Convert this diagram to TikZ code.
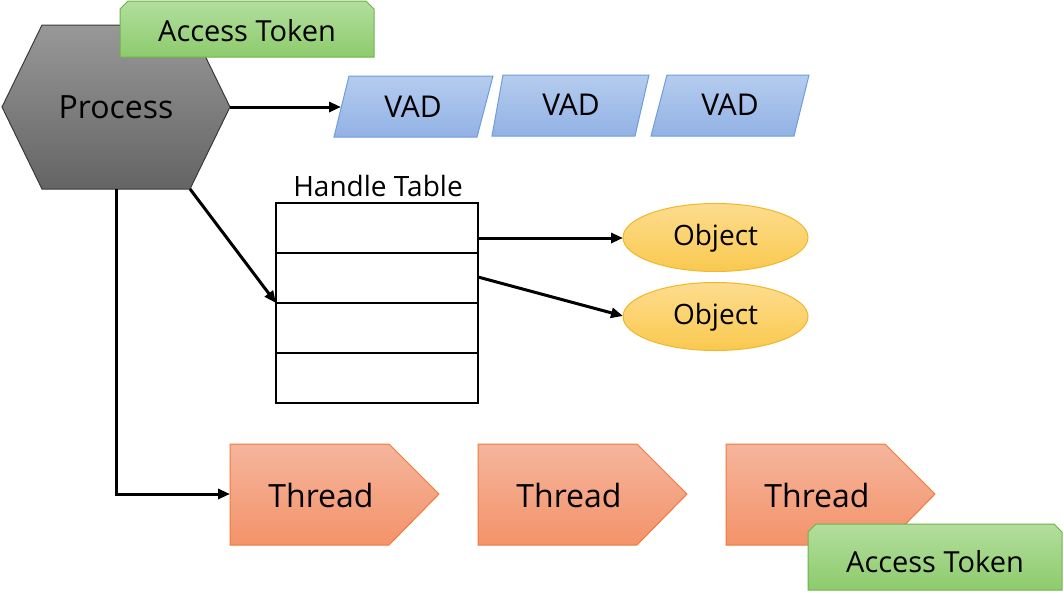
\documentclass[tikz,border=0pt]{standalone}
\usepackage{fontspec}
\setmainfont{Open Sans}
\usetikzlibrary{arrows.meta}
\definecolor{hexTop}{HTML}{989898}
\definecolor{hexBot}{HTML}{646464}
\definecolor{hexLine}{HTML}{3A3A3A}
\definecolor{tokTop}{HTML}{B3DE9E}
\definecolor{tokBot}{HTML}{8DCB6C}
\definecolor{tokLine}{HTML}{6CB348}
\definecolor{vadTop}{HTML}{B5CCEE}
\definecolor{vadBot}{HTML}{92B2E5}
\definecolor{vadLine}{HTML}{6E9DDF}
\definecolor{objTop}{HTML}{FDDC8E}
\definecolor{objBot}{HTML}{F9C94F}
\definecolor{objLine}{HTML}{F0B72A}
\definecolor{thrTop}{HTML}{F5B59C}
\definecolor{thrBot}{HTML}{F4936A}
\definecolor{thrLine}{HTML}{EE7A3C}
\begin{document}
\begin{tikzpicture}[x=1pt,y=-1pt,
  hexshape/.style={top color=hexTop,bottom color=hexBot,draw=hexLine,line width=1pt},
  tokshape/.style={top color=tokTop,bottom color=tokBot,draw=tokLine,line width=1pt},
  vadshape/.style={top color=vadTop,bottom color=vadBot,draw=vadLine,line width=1pt},
  objshape/.style={top color=objTop,bottom color=objBot,draw=objLine,line width=1pt},
  thrshape/.style={top color=thrTop,bottom color=thrBot,draw=thrLine,line width=1pt},
  tablebox/.style={draw=black,line width=2.6pt},
  lbl/.style={inner sep=0pt,text=black,font=\fontsize{#1}{#1}\selectfont},
  arr/.style={-{Triangle[length=12pt,width=10pt]},line width=3pt,black}]
\useasboundingbox (0,0) rectangle (1063,600);
\fill[white] (0,0) rectangle (1063,600);

% Process hexagon
\shadedraw[hexshape] (2,107) -- (42,25) -- (190,25) -- (230,107) -- (190,189) -- (42,189) -- cycle;
\node[lbl=32] (process) at (116,107) {Process};
\coordinate (pR) at (230,107);
\coordinate (pBR) at (190,189);
\coordinate (pB) at (116,189);

% Access token (top)
\shadedraw[tokshape] (120,57) -- (120,9) -- (128,1) -- (366,1) -- (374,9) -- (374,57) -- cycle;
\node[lbl=29] (tok1) at (247,31) {Access Token};

% VADs
\shadedraw[vadshape] (334,137) -- (349,76) -- (493,76) -- (477,137) -- cycle;
\node[lbl=30] (vad1) at (413,107) {VAD};
\shadedraw[vadshape] (492,136) -- (503,75) -- (649,75) -- (635,136) -- cycle;
\node[lbl=30] (vad2) at (571,105) {VAD};
\shadedraw[vadshape] (651,136) -- (667,75) -- (809,75) -- (794,136) -- cycle;
\node[lbl=30] (vad3) at (730,105) {VAD};
\coordinate (v1L) at (341,107);

% Handle table
\node[lbl=28] (htlabel) at (378,186) {Handle Table};
\draw[tablebox] (276,203) rectangle (478,403);
\draw[tablebox] (276,253) -- (478,253);
\draw[tablebox] (276,303) -- (478,303);
\draw[tablebox] (276,353) -- (478,353);
\coordinate (row1R) at (478,238);
\coordinate (row2R) at (478,277);
\coordinate (tL) at (276,303);

% Objects
\shadedraw[objshape] (715.5,237.5) ellipse [x radius=92.5,y radius=34];
\node[lbl=28] (obj1) at (715.5,238) {Object};
\shadedraw[objshape] (715.5,316.5) ellipse [x radius=92.5,y radius=34];
\node[lbl=28] (obj2) at (715.5,317) {Object};
\coordinate (o1L) at (623,238);
\coordinate (o2L) at (623,316);

% Threads
\foreach \x/\n in {230/1,478/2,726/3}{
  \shadedraw[thrshape] (\x,444) -- (\x+159,444) -- (\x+209,494) -- (\x+159,545) -- (\x,545) -- cycle;
  \node[lbl=32] (thread\n) at (\x+91,495) {Thread};
}
\coordinate (t1L) at (230,494);

% Access token (bottom)
\shadedraw[tokshape] (808,590) -- (808,532) -- (816,524) -- (1054,524) -- (1062,532) -- (1062,590) -- cycle;
\node[lbl=29] (tok2) at (935,562) {Access Token};

% Connectors
\draw[arr] (pR) -- (v1L);
\draw[arr] (pBR) -- (tL);
\draw[arr] (pB) |- (t1L);
\draw[arr] (row1R) -- (o1L);
\draw[arr] (row2R) -- (o2L);
\end{tikzpicture}
\end{document}
